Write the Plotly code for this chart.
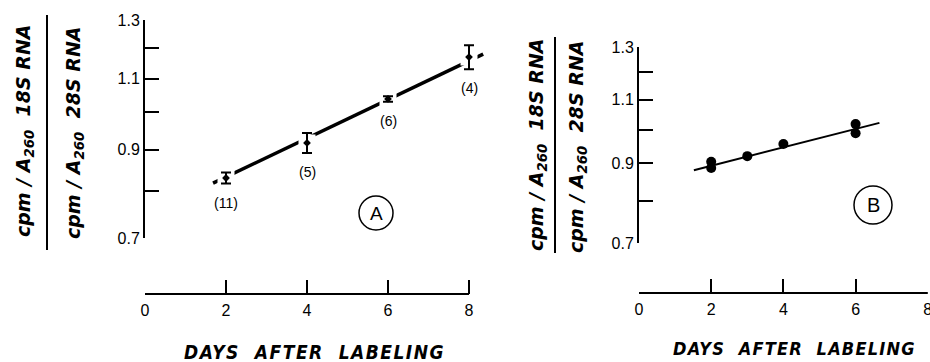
import math
import plotly.graph_objects as go

W, H = 930, 362

# ---------------- data ----------------
days_a = [2, 4, 6, 8]
ratio_a = [0.830, 0.917, 1.039, 1.170]
err_a = [0.013, 0.026, 0.008, 0.040]
n_a = ["(11)", "(5)", "(6)", "(4)"]
fit_a_x = [1.68, 8.35]
fit_a_y = [0.818, 1.180]

days_b = [2, 2, 3, 4, 6, 6]
ratio_b = [0.905, 0.887, 0.921, 0.957, 1.019, 0.990]
fit_b_x = [1.52, 6.66]
fit_b_y = [0.881, 1.023]

x_ticks = [0, 2, 4, 6, 8]
y_ticks = [0.7, 0.9, 1.1, 1.3]
y_ticktext = ["0.7", "0.9", "1.1", "1.3"]
y_minor = [0.8, 1.0, 1.2]

xtitle = "DAYS  AFTER  LABELING"
num_text = "cpm / A<sub>260</sub>  18S RNA"
den_text = "cpm / A<sub>260</sub>  28S RNA"


def px(x):
    return x / W


def py(y):
    return 1 - y / H


TICKFONT = dict(family="Liberation Sans, Arial", size=16, color="black")
TITLEFONT = dict(family="DejaVu Sans Condensed, DejaVu Sans", size=19, color="black",
                 weight="bold", style="italic")
TITLEFONT_B = dict(TITLEFONT, size=18)

fig = go.Figure()

# ---- Panel A ----
fig.add_trace(go.Scatter(x=fit_a_x, y=fit_a_y, mode="lines",
                         line=dict(color="black", width=3.5),
                         xaxis="x", yaxis="y", showlegend=False, hoverinfo="skip"))
fig.add_trace(go.Scatter(x=days_a, y=ratio_a, mode="markers",
                         marker=dict(color="white", size=17, symbol="square"),
                         xaxis="x", yaxis="y", showlegend=False, hoverinfo="skip"))
fig.add_trace(go.Scatter(x=days_a, y=ratio_a, mode="markers",
                         marker=dict(color="black", size=6, symbol="diamond"),
                         error_y=dict(type="data", array=err_a, color="black",
                                      thickness=2, width=5),
                         xaxis="x", yaxis="y", showlegend=False))

# ---- Panel B ----
fig.add_trace(go.Scatter(x=fit_b_x, y=fit_b_y, mode="lines",
                         line=dict(color="black", width=2),
                         xaxis="x2", yaxis="y2", showlegend=False, hoverinfo="skip"))
fig.add_trace(go.Scatter(x=days_b, y=ratio_b, mode="markers",
                         marker=dict(color="black", size=10),
                         xaxis="x2", yaxis="y2", showlegend=False))

# axis geometry (pixels)
A_x0, A_unit = 145, 40.5
A_ytop, A_ybot = 20, 238
A_xaxis_y = 294
A_xmax = 8.6

B_x0, B_unit = 639, 36.1
B_ytop, B_ybot = 47, 243
B_xaxis_y = 293
B_xmax = 8.02

common_x = dict(tickmode="array", tickvals=x_ticks, ticks="inside", ticklen=14,
                tickwidth=2, tickcolor="black", showgrid=False, zeroline=False,
                tickfont=TICKFONT, anchor="free", fixedrange=True, automargin=False,
                ticklabelstandoff=5, ticklabeloverflow="allow")
common_y = dict(type="log", tickmode="array", tickvals=y_ticks, ticktext=y_ticktext,
                ticks="inside", ticklen=14, tickwidth=2, tickcolor="black",
                minor=dict(tickmode="array", tickvals=y_minor, ticks="inside", ticklen=14,
                           tickwidth=2, tickcolor="black", showgrid=False),
                showline=True, linecolor="black", linewidth=2, automargin=False,
                showgrid=False, zeroline=False, tickfont=TICKFONT, fixedrange=True)

fig.update_layout(
    width=W, height=H, margin=dict(l=0, r=0, t=0, b=0, autoexpand=False),
    paper_bgcolor="white", plot_bgcolor="rgba(0,0,0,0)",
    xaxis=dict(domain=[px(A_x0), px(A_x0 + A_unit * A_xmax)], range=[0, A_xmax],
               position=py(A_xaxis_y), showline=False, **common_x),
    yaxis=dict(domain=[py(A_ybot), py(A_ytop)],
               range=[math.log10(0.7), math.log10(1.3)], anchor="x", **common_y),
    xaxis2=dict(domain=[px(B_x0), min(1.0, px(B_x0 + B_unit * B_xmax))], range=[0, B_xmax],
                position=py(B_xaxis_y), showline=False, **common_x),
    yaxis2=dict(domain=[py(B_ybot), py(B_ytop)],
                range=[math.log10(0.7), math.log10(1.3)], anchor="x2", **common_y),
)

shapes = []
# x-axis lines from 0 to 8
shapes.append(dict(type="line", xref="x", yref="paper", x0=x_ticks[0], x1=x_ticks[-1],
                   y0=py(A_xaxis_y), y1=py(A_xaxis_y), line=dict(color="black", width=2)))
shapes.append(dict(type="line", xref="x2", yref="paper", x0=x_ticks[0], x1=x_ticks[-1],
                   y0=py(B_xaxis_y), y1=py(B_xaxis_y), line=dict(color="black", width=2)))
# fraction bars
shapes.append(dict(type="line", xref="paper", yref="paper", x0=px(47), x1=px(47),
                   y0=py(15), y1=py(250), line=dict(color="black", width=2)))
shapes.append(dict(type="line", xref="paper", yref="paper", x0=px(555), x1=px(555),
                   y0=py(37), y1=py(253), line=dict(color="black", width=2)))
# circles
for (cx, cy, r) in [(376, 213, 17), (873, 205, 19)]:
    shapes.append(dict(type="circle", xref="paper", yref="paper",
                       xsizemode="pixel", ysizemode="pixel",
                       xanchor=px(cx), yanchor=py(cy),
                       x0=-r, x1=r, y0=-r, y1=r, line=dict(color="black", width=1.5)))
fig.update_layout(shapes=shapes)

ann = []
for d, v, e, t in zip(days_a, ratio_a, err_a, n_a):
    ann.append(dict(x=d, y=math.log10(v - e), xref="x", yref="y", text=t,
                    showarrow=False, xanchor="center", yanchor="middle", yshift=-19,
                    font=dict(family="Liberation Sans, Arial", size=14, color="black")))
ann.append(dict(x=px(376), y=py(213), xref="paper", yref="paper", text="A",
                xanchor="center", yanchor="middle",
                showarrow=False, font=dict(family="Liberation Sans", size=19, color="black")))
ann.append(dict(x=px(873), y=py(205), xref="paper", yref="paper", text="B",
                xanchor="center", yanchor="middle",
                showarrow=False, font=dict(family="Liberation Sans", size=20, color="black")))
# axis titles
xt_a = '<span style="letter-spacing:1.5px">' + xtitle + '</span>'
xt_b = '<span style="letter-spacing:1.2px">' + xtitle + '</span>'
ann.append(dict(x=px(314), y=py(352), xref="paper", yref="paper", text=xt_a,
                xanchor="center", yanchor="middle", showarrow=False, font=TITLEFONT))
ann.append(dict(x=px(794), y=py(348), xref="paper", yref="paper", text=xt_b,
                xanchor="center", yanchor="middle", showarrow=False, font=TITLEFONT_B))
YT = dict(family="DejaVu Sans", size=19, color="black", weight="bold", style="italic")
for (xx, yy, t) in [(24, 131, num_text), (74, 133, den_text),
                    (537, 145, num_text), (577, 147, den_text)]:
    ann.append(dict(x=px(xx), y=py(yy), xref="paper", yref="paper", text=t,
                    xanchor="center", yanchor="middle",
                    textangle=-90, showarrow=False, font=YT))
fig.update_layout(annotations=ann)

fig.write_html("out.html", config={"displayModeBar": False},
               post_script="document.body.style.margin='0px';")
